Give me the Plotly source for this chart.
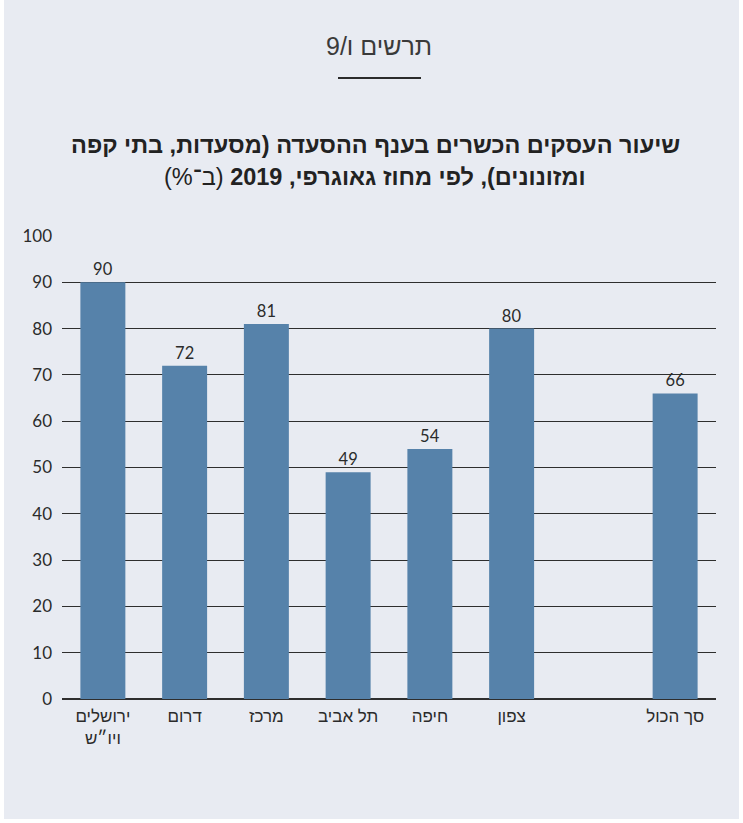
import plotly.graph_objects as go

# data
districts = ["ירושלים<br>ויו״ש", "דרום", "מרכז", "תל אביב", "חיפה", "צפון", " ", "סך הכול"]
kosher_pct = [90, 72, 81, 49, 54, 80, None, 66]
y_ticks = [0, 10, 20, 30, 40, 50, 60, 70, 80, 90, 100]

RLM = "\u200F"
bg = "#e8ebf2"
bar_col = "#5682aa"
ink = "#2b2b2b"
font = "Liberation Sans, DejaVu Sans, sans-serif"
num_font = "Lato, Open Sans, sans-serif"

fig = go.Figure()
fig.add_trace(go.Bar(
    x=districts,
    y=kosher_pct,
    marker=dict(color=bar_col, line=dict(width=0)),
    width=0.55,
    text=[str(v) if v is not None else None for v in kosher_pct],
    textposition="outside",
    textfont=dict(size=16.5, color=ink, family=num_font),
    cliponaxis=False,
    hoverinfo="skip",
))

shown = [d for d in districts if d.strip()]
fig.update_layout(
    width=743, height=823,
    paper_bgcolor=bg, plot_bgcolor=bg,
    margin=dict(l=62, r=27, t=236, b=124),
    showlegend=False,
    font=dict(family=font, color=ink),
    xaxis=dict(
        type="category", categoryorder="array", categoryarray=districts,
        tickvals=shown, ticktext=shown,
        range=[-0.5, 7.5], showgrid=False, zeroline=False, showline=False,
        ticks="", ticklabelstandoff=5, tickfont=dict(size=17, color=ink),
    ),
    yaxis=dict(
        range=[0, 100], tickvals=y_ticks, showgrid=True, gridcolor="#2e2e2e",
        gridwidth=1.2, zeroline=True, zerolinecolor="#2e2e2e", zerolinewidth=1.5,
        showline=False, ticks="", ticklabelstandoff=9,
        tickfont=dict(size=17, color=ink, family=num_font),
    ),
)

def px_x(x):
    return (x - 62) / 654

def px_y(y):
    return 1 - (y - 236) / 463

# chart number + short rule
fig.add_annotation(text=RLM + "תרשים ו/9" + RLM, xref="paper", yref="paper",
                   x=px_x(379), y=px_y(46), xanchor="center", yanchor="middle",
                   showarrow=False, font=dict(size=25, color="#3a3a3a", family=font))
fig.add_shape(type="line", xref="paper", yref="paper",
              x0=px_x(338), x1=px_x(421), y0=px_y(78), y1=px_y(78),
              line=dict(color="#2b2b2b", width=2))

# title, centred lines
title_lines = [
    RLM + "<b>שיעור העסקים הכשרים בענף ההסעדה (מסעדות, בתי קפה</b>" + RLM,
    RLM + "<b>ומזונונים), לפי מחוז גאוגרפי, 2019</b> (ב־%)" + RLM,
]
for i, line in enumerate(title_lines):
    fig.add_annotation(text=line, xref="paper", yref="paper",
                       x=px_x(375), y=px_y(145 + 32 * i),
                       xanchor="center", yanchor="middle",
                       showarrow=False, font=dict(size=23.5, color="#222222", family=font))

# thin white frame on the edges
for x0, x1, y0, y1 in [(0, 4, 0, 823), (739, 743, 0, 823), (0, 743, 819, 823)]:
    fig.add_shape(type="rect", xref="paper", yref="paper", layer="below",
                  x0=px_x(x0), x1=px_x(x1), y0=px_y(y0), y1=px_y(y1),
                  fillcolor="white", line=dict(width=0))

fig.write_html("out.html", config={"displayModeBar": False},
               post_script="document.body.style.margin='0';")
